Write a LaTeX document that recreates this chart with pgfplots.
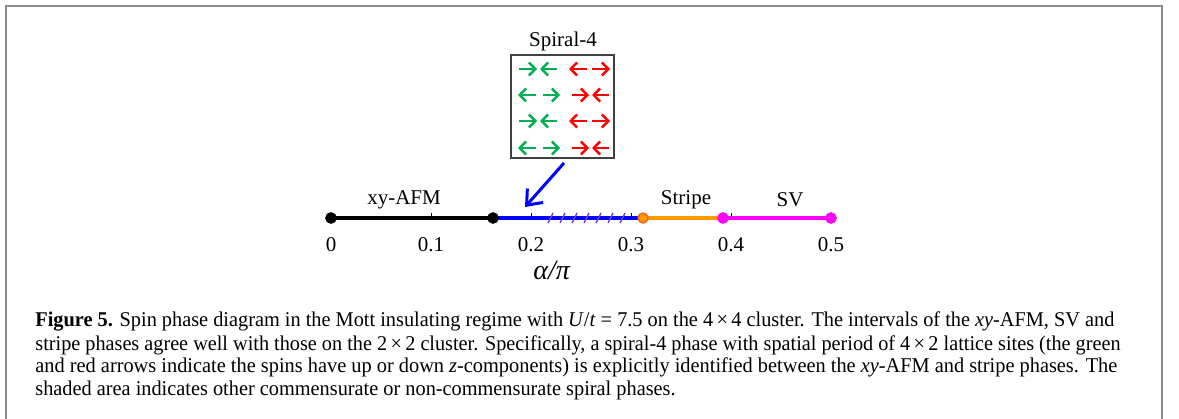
\documentclass[border=0pt]{standalone}
\usepackage{fontspec}
\setmainfont{Liberation Serif}
\usepackage{graphicx}
\usepackage{pgfplots}
\pgfplotsset{compat=1.18}
\usetikzlibrary{arrows.meta}
\definecolor{myorange}{RGB}{255,153,0}
\definecolor{myorangeedge}{RGB}{235,100,20}
\definecolor{mymagenta}{RGB}{255,0,255}
\definecolor{myblue}{RGB}{0,0,255}
\definecolor{myhatch}{RGB}{110,60,200}
\definecolor{mygreen}{RGB}{0,176,80}
\definecolor{myred}{RGB}{255,0,0}
\definecolor{framegray}{RGB}{140,140,140}
\tikzset{sp/.style={line width=1.2bp, -{Straight Barb[length=3.2bp,width=6.5bp]}}}
\newcommand\capfont{\fontsize{10.5bp}{12bp}\selectfont}
\newcommand\LineOne{\textbf{Figure 5.} Spin phase diagram in the Mott insulating regime with \textit{U}/\textit{t} = 7.5 on the 4\,×\,4 cluster. The intervals of the \textit{xy}-AFM, SV and}
\newcommand\LineTwo{stripe phases agree well with those on the 2\,×\,2 cluster. Specifically, a spiral-4 phase with spatial period of 4\,×\,2 lattice sites (the green}
\newcommand\LineThree{and red arrows indicate the spins have up or down \textit{z}-components) is explicitly identified between the \textit{xy}-AFM and stripe phases. The}
\newcommand\LineFour{shaded area indicates other commensurate or non-commensurate spiral phases.}
\newlength\Lone
\begin{document}%
\settowidth\Lone{\capfont\LineOne}%
\pgfmathsetmacro\sx{539.5*1.00375/\Lone}%
\begin{tikzpicture}[x=0.5bp,y=-0.5bp]
\useasboundingbox (0,0) rectangle (1179,419);
\draw[framegray, line width=1.2bp] (6,419) -- (6,6) -- (1162,6) -- (1162,419);
\begin{axis}[
  at={(165.5bp,-109bp)}, anchor=south west,
  scale only axis, width=250bp, height=100bp,
  xmin=0, xmax=0.5, ymin=0, ymax=200,
  clip=false,
  axis line style={draw=none},
  ytick=\empty,
  xtick={0,0.1,0.2,0.3,0.4,0.5},
  xticklabels={0,0.1,0.2,0.3,0.4,0.5},
  xtick pos=bottom,
  tick align=inside,
  major tick length=2.5bp,
  every tick/.style={black, line width=0.4bp},
  xticklabel style={anchor=center, yshift=-13.5bp, font=\fontsize{10.5bp}{12bp}\selectfont},
]
% phase segments
\addplot[black, line width=1.6bp] coordinates {(0,0) (0.162,0)};
\addplot[myblue, line width=1.6bp] coordinates {(0.162,0) (0.312,0)};
\addplot[myorange, line width=1.6bp] coordinates {(0.312,0) (0.392,0)};
\addplot[mymagenta, line width=1.6bp] coordinates {(0.392,0) (0.5,0)};
% shaded (hatched) region
\addplot[myhatch, line width=0.65bp, quiver={u=0.005, v=10}, -] table[row sep=\\] {
x y\\
0.217 -5\\
0.229 -5\\
0.241 -5\\
0.253 -5\\
0.265 -5\\
0.277 -5\\
0.289 -5\\
};
% boundary points
\addplot[only marks, mark=*, mark size=2.7bp, black] coordinates {(0,0) (0.162,0)};
\addplot[only marks, mark=*, mark size=2.5bp, draw=myorangeedge, fill=myorange, mark options={line width=0.7bp}] coordinates {(0.312,0)};
\addplot[only marks, mark=*, mark size=2.7bp, mymagenta] coordinates {(0.392,0) (0.5,0)};
% labels
\node[font=\fontsize{10.5bp}{12bp}\selectfont] at (axis cs:0.073,18) {xy-AFM};
\node[font=\fontsize{10.5bp}{12bp}\selectfont] at (axis cs:0.355,18) {Stripe};
\node[font=\fontsize{10.5bp}{12bp}\selectfont] at (axis cs:0.459,18) {SV};
\node[font=\fontsize{14bp}{16bp}\selectfont] at (axis cs:0.221,-52) {\textit{α/π}};
% inset
\node[font=\fontsize{10.5bp}{12bp}\selectfont] at (axis cs:0.232,177) {Spiral-4};
\draw[black!75, line width=1bp] (axis cs:0.180,60) rectangle (axis cs:0.283,163);
% row 1 (y=149)
\draw[sp, mygreen] (axis cs:0.188,149) -- (axis cs:0.206,149);
\draw[sp, mygreen] (axis cs:0.226,149) -- (axis cs:0.209,149);
\draw[sp, myred] (axis cs:0.256,149) -- (axis cs:0.238,149);
\draw[sp, myred] (axis cs:0.261,149) -- (axis cs:0.279,149);
% row 3 (y=97)
\draw[sp, mygreen] (axis cs:0.188,97) -- (axis cs:0.206,97);
\draw[sp, mygreen] (axis cs:0.226,97) -- (axis cs:0.209,97);
\draw[sp, myred] (axis cs:0.256,97) -- (axis cs:0.238,97);
\draw[sp, myred] (axis cs:0.261,97) -- (axis cs:0.279,97);
% row 2 (y=123)
\draw[sp, mygreen] (axis cs:0.205,123) -- (axis cs:0.187,123);
\draw[sp, mygreen] (axis cs:0.212,123) -- (axis cs:0.229,123);
\draw[sp, myred] (axis cs:0.241,123) -- (axis cs:0.258,123);
\draw[sp, myred] (axis cs:0.278,123) -- (axis cs:0.261,123);
% row 4 (y=70)
\draw[sp, mygreen] (axis cs:0.205,70) -- (axis cs:0.187,70);
\draw[sp, mygreen] (axis cs:0.212,70) -- (axis cs:0.229,70);
\draw[sp, myred] (axis cs:0.241,70) -- (axis cs:0.258,70);
\draw[sp, myred] (axis cs:0.278,70) -- (axis cs:0.261,70);
\draw[myblue, line width=1.5bp, -{Straight Barb[length=6.5bp,width=10.5bp]}] (axis cs:0.233,55) -- (axis cs:0.194,11);
\end{axis}
% caption
\begin{scope}[every node/.style={anchor=base west, inner sep=0pt, font=\capfont}]
\node at (35,327) {\resizebox{539.5bp}{\height}{\LineOne}};
\node at (35,350) {\resizebox{542.5bp}{\height}{\LineTwo}};
\node at (35,373) {\resizebox{541bp}{\height}{\LineThree}};
\node at (35,396) {\scalebox{\sx}[1]{\LineFour}};
\end{scope}
\end{tikzpicture}%
\end{document}
